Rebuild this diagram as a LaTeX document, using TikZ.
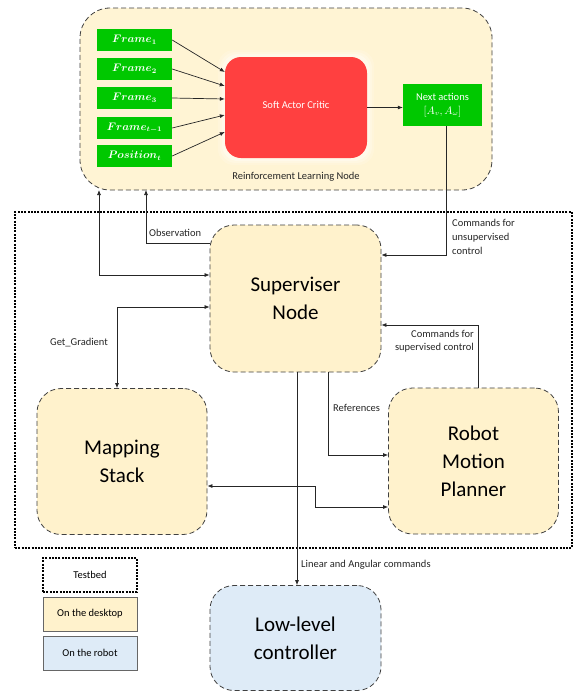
\documentclass[tikz,border=0pt]{standalone}
\usepackage{fontspec}
\setmainfont{Carlito}
\usetikzlibrary{arrows.meta,calc,positioning}
\definecolor{deskY}{HTML}{FFF2CC}
\definecolor{robB}{HTML}{DEEBF7}
\definecolor{grn}{HTML}{00C800}
\definecolor{sacred}{HTML}{FF4040}
\definecolor{brd}{HTML}{404040}
\newcommand{\smallf}{\fontsize{10.5}{14}\selectfont}
\newcommand{\bigf}{\fontsize{21}{28}\selectfont}
\begin{document}
\begin{tikzpicture}[x=1pt,y=-1pt,
  box/.style={draw=brd,dashed,dash pattern=on 5pt off 3pt,line width=0.8pt,fill=deskY,rounded corners=24pt,align=center,inner sep=0pt,font=\bigf},
  framebox/.style={fill=grn,text=white,minimum width=75pt,minimum height=22pt,inner sep=0pt,font=\fontsize{10.5}{12}\selectfont\boldmath},
  lbl/.style={font=\smallf,inner sep=0pt,text=black!85},
  conn/.style={draw=black!85,line width=0.7pt},
  arr/.style={conn,-{Latex[length=5pt,width=4pt]}},
  darr/.style={conn,{Latex[length=5pt,width=4pt]}-{Latex[length=5pt,width=4pt]}},
  legbox/.style={minimum width=94pt,minimum height=34pt,inner sep=0pt,font=\smallf}
]
\useasboundingbox (0,0) rectangle (575,691);
\fill[white] (0,0) rectangle (575,691);

% Reinforcement learning node
\node[box,rounded corners=30pt,fill=deskY!85!white,minimum width=412pt,minimum height=182pt] (rl) at (286,99) {};
\node[lbl] (rltxt) at (296,177) {Reinforcement Learning Node};

\node[framebox] (f1) at (134.5,40) {$Frame_1$};
\node[framebox] (f2) at (134.5,69) {$Frame_2$};
\node[framebox] (f3) at (134.5,98) {$Frame_3$};
\node[framebox] (f4) at (134.5,128) {$Frame_{t-1}$};
\node[framebox] (f5) at (134.5,156) {$Position_t$};

\foreach \s/\o in {7/0.15,5/0.2,3/0.3}{
  \fill[white,opacity=\o,rounded corners=16pt] (225-\s,57-\s) rectangle (367+\s,158+\s);
}
\node[fill=sacred,rounded corners=16pt,minimum width=142pt,minimum height=101pt,text=white,font=\smallf] (sac) at (296,107.5) {\raisebox{6pt}{Soft Actor Critic}};

\node[fill=grn,text=white,minimum width=79pt,minimum height=42pt,inner sep=0pt,align=center,font=\smallf] (next) at (442.5,105) {Next actions\\[0pt] $[A_v,A_\omega]$};

\draw[arr] (f1.east) -- ($(sac.west)+(0,-35.5)$);
\draw[arr] (f2.east) -- ($(sac.west)+(0,-21.5)$);
\draw[arr] (f3.east) -- ($(sac.west)+(0,-8.5)$);
\draw[arr] (f4.east) -- ($(sac.west)+(0,7.5)$);
\draw[arr] (f5.east) -- ($(sac.west)+(0,24.5)$);
\draw[arr] (sac.east) -- (sac.east -| next.west);

% Testbed
\node[draw=black,line width=2.3pt,dash pattern=on 2pt off 1.3pt,minimum width=557pt,minimum height=336pt,inner sep=0pt] (testbed) at (293.5,380) {};

% main nodes
\node[box,minimum width=171pt,minimum height=147pt] (super) at (295.5,298.5) {Superviser\\Node};
\node[box,minimum width=170pt,minimum height=146pt] (map) at (122,461.5) {Mapping\\Stack};
\node[box,minimum width=170pt,minimum height=146pt] (robot) at (473.5,461) {Robot\\Motion\\Planner};
\node[box,fill=robB,minimum width=171pt,minimum height=105pt] (low) at (295.5,638) {Low-level\\controller};

% connectors
\draw[arr] ($(next.south)+(3.5,0)$) |- ($(super.east)+(0,-43.5)$);
\node[lbl,align=left,anchor=west] (cu) at (452,237) {Commands for\\unsupervised\\control};

\coordinate (obsTop) at (146,190);
\draw[conn,{Latex[length=5pt,width=4pt]}-] (obsTop) |- ($(super.west)+(0,-55.5)$);
\node[lbl,anchor=west] (obs) at (149,233) {Observation};

\coordinate (dTop) at (99,190);
\draw[darr] (dTop) |- ($(super.west)+(0,-23.5)$);

\draw[darr] ($(super.west)+(0,8.5)$) -| ($(map.north)+(-5,0)$);
\node[lbl] (gg) at (79,343) {Get\_Gradient};

\draw[arr] ($(robot.north)+(4.5,0)$) |- ($(super.east)+(0,26.5)$);
\node[lbl,align=right,anchor=east,font=\fontsize{10.5}{13}\selectfont] (cs) at (474,341.5) {Commands for\\supervised control};

\draw[arr] ($(super.south)+(32.5,0)$) |- ($(robot.west)+(0,-6)$);
\node[lbl,anchor=west] (refs) at (333,408) {References};

\coordinate (mid) at (315,486);
\draw[darr] ($(map.east)+(0,24.5)$) -- (mid) |- ($(robot.west)+(0,46)$);

\draw[arr] ($(super.south)+(1.5,0)$) -- ($(low.north)+(1.5,0)$);
\node[lbl,anchor=west] (lac) at (301,565) {Linear and Angular commands};

% legend
\node[legbox,draw=black,line width=2.3pt,dash pattern=on 2pt off 1.3pt] (lt) at (90,575) {Testbed};
\node[legbox,draw=black!60,line width=0.8pt,fill=deskY] (ld) at (90,614) {On the desktop};
\node[legbox,draw=black!60,line width=0.8pt,fill=robB] (lr) at (90,653) {On the robot};
\end{tikzpicture}
\end{document}
